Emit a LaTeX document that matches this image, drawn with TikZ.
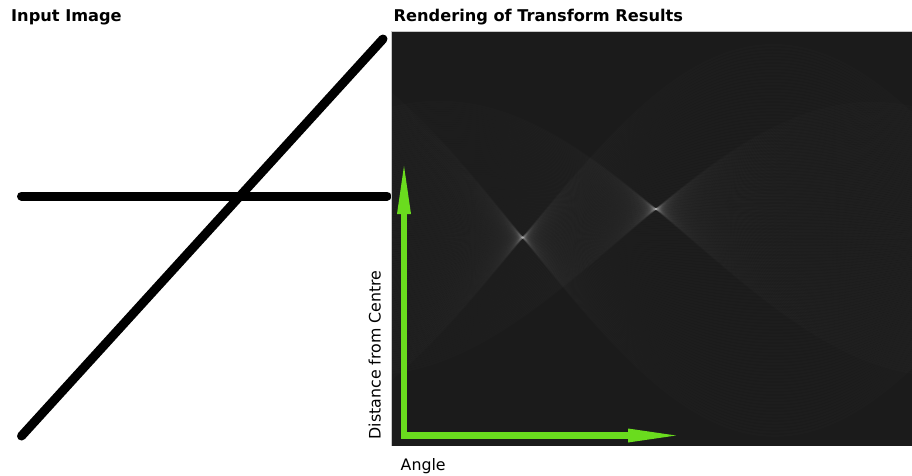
\documentclass[tikz,border=0pt]{standalone}
\usepackage{fontspec}
\setmainfont{DejaVu Sans}
\definecolor{axisgreen}{RGB}{106,220,30}
\definecolor{panelgrey}{RGB}{27,27,27}
\definecolor{panelrim}{RGB}{200,200,200}
\begin{document}
\begin{tikzpicture}[x=1pt,y=-1pt,
  stroke/.style={line width=9pt,line cap=round,black},
  trace/.style={white,opacity=0.013,line width=2pt},
  axisline/.style={axisgreen,line width=6.5pt,line join=miter},
  axishead/.style={fill=axisgreen},
  caption/.style={inner sep=0pt,anchor=base west,font=\fontsize{15.8}{18}\selectfont},
  title/.style={caption,font=\fontsize{16.2}{18}\selectfont\bfseries}]
\useasboundingbox (0,0) rectangle (912,475);

% headings
\node[title] (t1) at (11,21) {Input Image};
\node[title] (t2) at (393.5,21) {Rendering of Transform Results};

% input image: two thick strokes
\coordinate (h1) at (21.5,196);
\coordinate (h2) at (387,196);
\coordinate (d1) at (21.5,436);
\coordinate (d2) at (383,39);
\draw[stroke] (h1) -- (h2);
\draw[stroke] (d1) -- (d2);

% accumulator panel
\fill[panelgrey] (391,31) rectangle (912,446);
\draw[panelrim,line width=0.7pt] (391,446) -- (391,31) -- (912,31);

% each sample point of a stroke votes along its sinusoid rho(theta)
\begin{scope}
  \clip (391,31) rectangle (912,446);
  \foreach \xa/\ya/\xb/\yb in {21.5/436/383/39, 21.5/196/387/196}{
    \foreach \i in {0,...,120}{
      \pgfmathsetmacro\frac{\i/120}
      \pgfmathsetmacro\px{\xa+(\xb-\xa)*\frac-205}
      \pgfmathsetmacro\py{\ya+(\yb-\ya)*\frac-236.5}
      \draw[trace] plot[domain=-5:182,samples=90,variable=\ang]
        ({404.5+2.7933*\ang},{238.5+0.728*(\px*cos(\ang)+\py*sin(\ang))});
    }
  }
\end{scope}

% axes: L-shaped shaft with two triangular heads
\coordinate (origin) at (404,435.5);
\coordinate (ybase) at (404,214);
\coordinate (ytip) at (404,166);
\coordinate (xbase) at (628,435.5);
\coordinate (xtip) at (676,435.5);
\draw[axisline] (ybase) -- (origin) -- (xbase);
\fill[axishead] ([xshift=-7pt]ybase) -- (ytip) -- ([xshift=7pt]ybase) -- cycle;
\fill[axishead] ([yshift=-7pt]xbase) -- (xtip) -- ([yshift=7pt]xbase) -- cycle;

% axis captions
\node[caption] (xl) at (400.5,470) {Angle};
\node[caption,rotate=90] (yl) at (380.5,439.5) {Distance from Centre};
\end{tikzpicture}
\end{document}
